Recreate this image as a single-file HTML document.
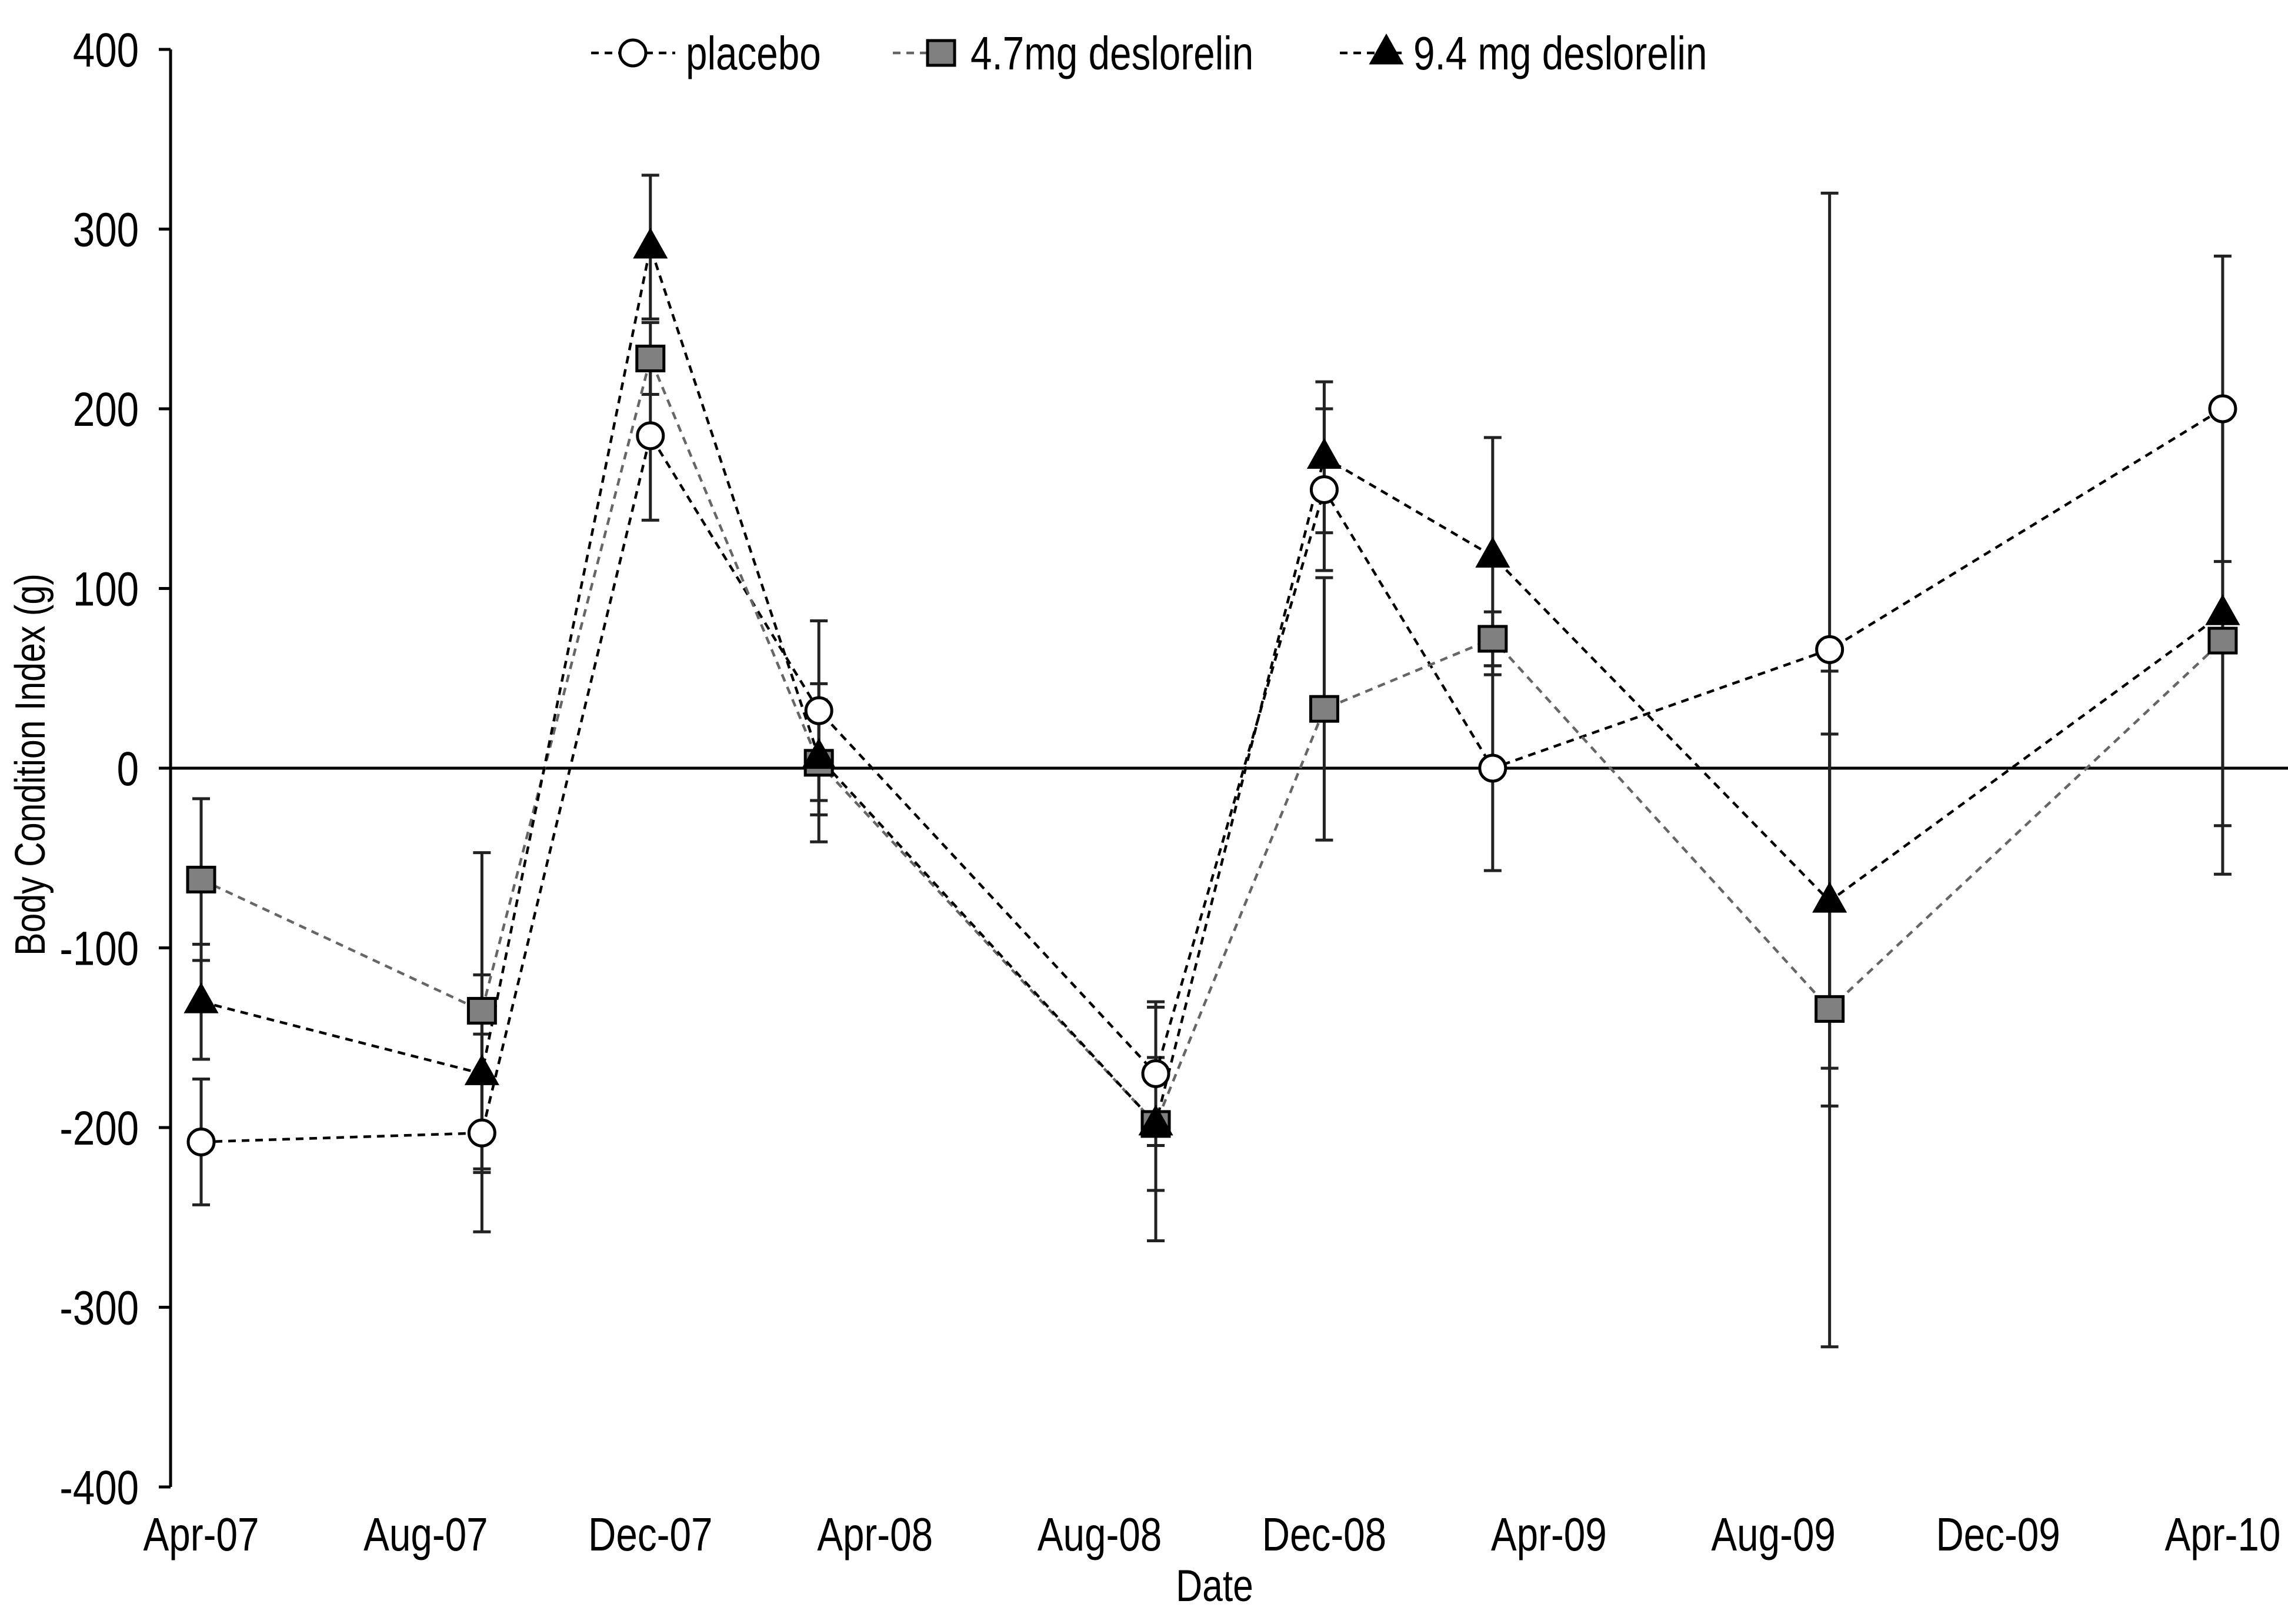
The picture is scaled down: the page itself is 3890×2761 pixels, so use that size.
<!DOCTYPE html>
<html><head><meta charset="utf-8"><style>
html,body{margin:0;padding:0;background:#fff;}
svg{display:block;font-family:"Liberation Sans",Arial,sans-serif;}
</style></head><body>
<svg id="chart" width="3890" height="2761" viewBox="0 0 3890 2761" xmlns="http://www.w3.org/2000/svg">
<g id="axes"></g>
<g id="series"></g>
<g id="legend"></g>
</svg>
<script>
const months = [0, 5, 8, 11, 17, 20, 23, 29, 36];
const placebo = [-208, -203, 185, 32, -170, 155, 0, 66, 200];
const placeboErr = [35, 55, 47, 50, 40, 45, 57, 254, 85];
const low = [-62, -135, 228, 3, -198, 33, 72, -134, 71];
const lowErr = [45, 88, 20, 44, 65, 73, 15, 188, 130];
const high = [-130, -170, 290, 6, -198, 173, 118, -74, 86];
const highErr = [32, 55, 40, 32, 37, 42, 66, 93, 118];
const yTicks = [400, 300, 200, 100, 0, -100, -200, -300, -400];
const xTickLabels = ["Apr-07","Aug-07","Dec-07","Apr-08","Aug-08","Dec-08","Apr-09","Aug-09","Dec-09","Apr-10"];

const NS = "http://www.w3.org/2000/svg";
const X0 = 342, PXM = 95.47;
const Y0 = 1306, PXU = 3.055;
const SX = 0.82;
function xs(m){ return X0 + m * PXM; }
function ys(v){ return Y0 - v * PXU; }
function mk(tag, attrs, parent){
  const e = document.createElementNS(NS, tag);
  for (const k in attrs) e.setAttribute(k, attrs[k]);
  parent.appendChild(e); return e;
}
const axes = document.getElementById('axes');
const series = document.getElementById('series');
const legend = document.getElementById('legend');

let yl = mk('line', {x1:290,y1:ys(400),x2:290,y2:ys(-400),stroke:'#000','stroke-width':5}, axes);


yTicks.forEach(v=>{
  const t = mk('line',{x1:270,y1:ys(v),x2:290,y2:ys(v),stroke:'#000','stroke-width':5},axes);
  
  
  const tx = mk('text',{x:236/SX,y:ys(v)+29,'text-anchor':'end','font-size':82,fill:'#000',transform:`scale(${SX},1)`},axes);
  
  
  tx.textContent = v;
});
let zl = mk('line',{x1:290,y1:ys(0),x2:3890,y2:ys(0),stroke:'#000','stroke-width':5},axes);


xTickLabels.forEach((s,i)=>{
  const x = xs(i*4);
  const tx = mk('text',{x:x/SX,y:2636,'text-anchor':'middle','font-size':80,fill:'#000',transform:`scale(${SX},1)`},axes);
  
  
  tx.textContent = s;
});
let xt = mk('text',{x:2065/SX,y:2722,'text-anchor':'middle','font-size':76,fill:'#000',transform:`scale(${SX},1)`},axes);


xt.textContent = 'Date';
let ytt = mk('text',{x:0,y:0,'text-anchor':'middle','font-size':72,fill:'#000',transform:`translate(76,1300) rotate(-90) scale(${SX},1)`},axes);


ytt.textContent = 'Body Condition Index  (g)';

function marker(type, cx, cy, parent){
  let e;
  if (type==='circle') e = mk('circle',{cx:cx,cy:cy,r:22,fill:'#fff',stroke:'#000','stroke-width':5},parent);
  else if (type==='square') e = mk('rect',{x:cx-23,y:cy-21,width:46,height:42,fill:'#808080',stroke:'#000','stroke-width':5},parent);
  else e = mk('polygon',{points:`${cx},${cy-30} ${cx-27},${cy+18} ${cx+27},${cy+18}`,fill:'#000',stroke:'#000','stroke-width':3},parent);
  return e;
}
const defs = [
  {name:'placebo', vals:placebo, err:placeboErr, color:'#000', m:'circle'},
  {name:'4.7mg', vals:low, err:lowErr, color:'#666', m:'square'},
  {name:'9.4mg', vals:high, err:highErr, color:'#000', m:'triangle'}
];
defs.forEach(d=>{
  d.vals.forEach((v,i)=>{
    const x = xs(months[i]);
    const g = mk('g',{stroke:'#222','stroke-width':5},series);
    
    
    mk('line',{x1:x,y1:ys(v+d.err[i]),x2:x,y2:ys(v-d.err[i])},g);
    mk('line',{x1:x-15,y1:ys(v+d.err[i]),x2:x+15,y2:ys(v+d.err[i])},g);
    mk('line',{x1:x-15,y1:ys(v-d.err[i]),x2:x+15,y2:ys(v-d.err[i])},g);
  });
});
defs.forEach(d=>{
  const pts = d.vals.map((v,i)=>xs(months[i])+','+ys(v)).join(' ');
  const pl = mk('polyline',{points:pts,fill:'none',stroke:d.color,'stroke-width':4.5,'stroke-dasharray':'13 10'},series);
  
  
});
defs.forEach(d=>{
  d.vals.forEach((v,i)=>{
    const e = marker(d.m, xs(months[i]), ys(v), series);
    
    
  });
});
const leg = [
  {label:'placebo', x1:1005, mx:1076, tx:1166, color:'#000', m:'circle'},
  {label:'4.7mg deslorelin', x1:1518, mx:1600, tx:1650, color:'#666', m:'square'},
  {label:'9.4 mg deslorelin', x1:2278, mx:2357, tx:2403, color:'#000', m:'triangle'}
];
leg.forEach(l=>{
  const g = mk('g',{},legend);
  
  
  mk('line',{x1:l.x1,y1:90,x2:l.tx-18,y2:90,stroke:l.color,'stroke-width':4.5,'stroke-dasharray':'13 10'},g);
  marker(l.m,l.mx,90,g);
  const t = mk('text',{x:l.tx/SX,y:118,'font-size':80,fill:'#000',transform:`scale(${SX},1)`},g);
  t.textContent = l.label;
});
</script>
</body></html>
